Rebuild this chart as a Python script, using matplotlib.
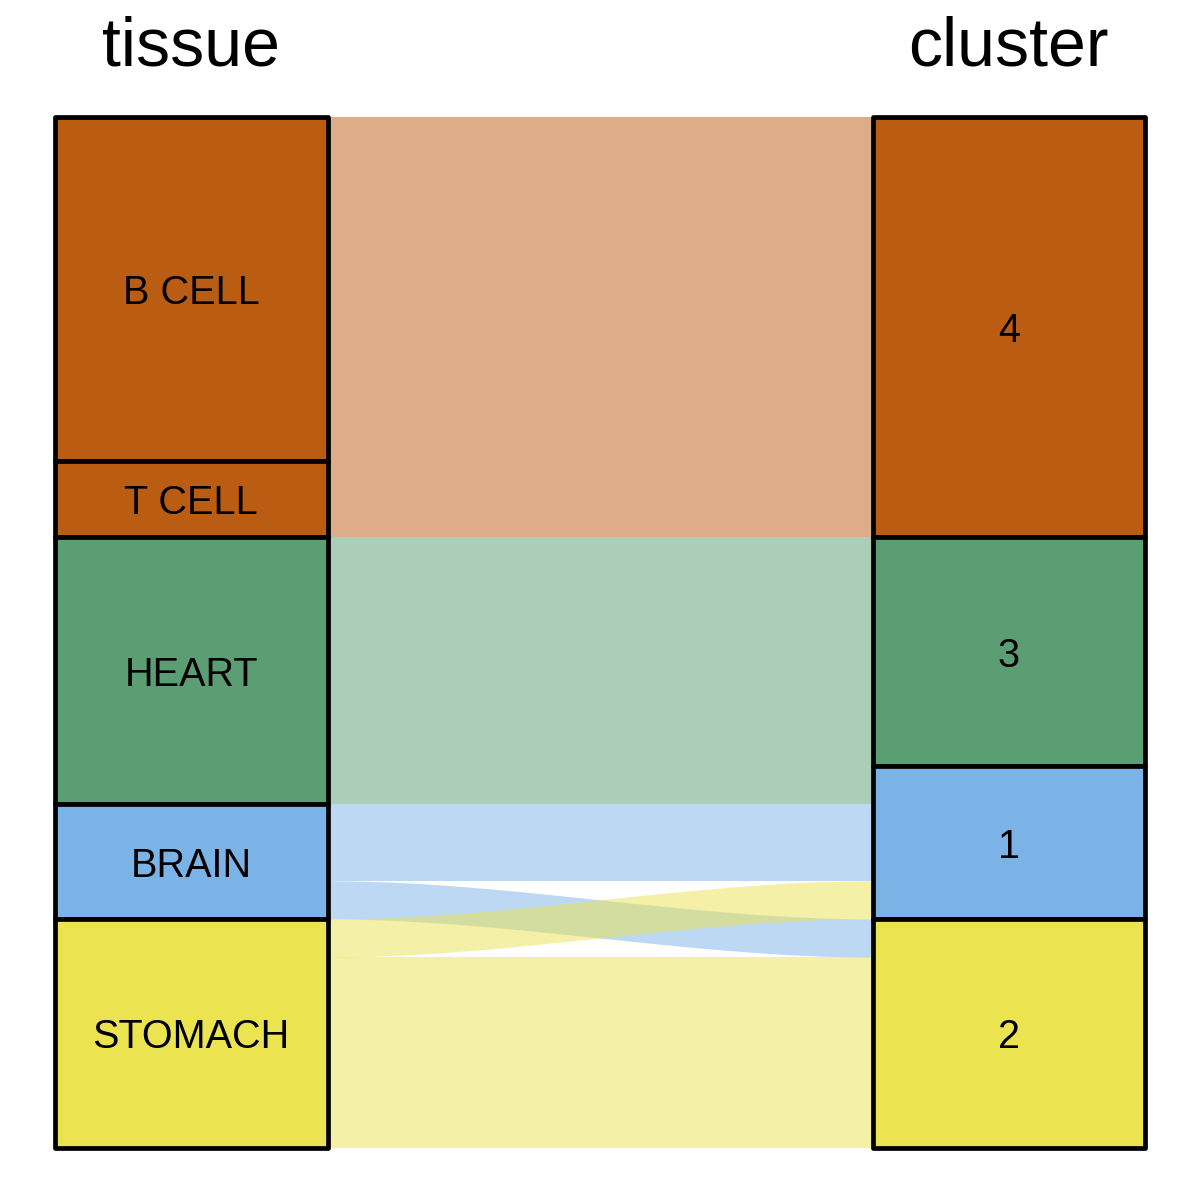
import matplotlib
matplotlib.use("Agg")
import matplotlib.pyplot as plt
from matplotlib.patches import Rectangle
import numpy as np

plt.rcParams['font.family'] = ['Liberation Sans', 'DejaVu Sans']

tissues = ["B CELL", "T CELL", "HEART", "BRAIN", "STOMACH"]
clusters = ["4", "3", "1", "2"]
flow_tissue = ["B CELL", "T CELL", "HEART", "HEART", "BRAIN", "BRAIN", "STOMACH", "STOMACH"]
flow_cluster = ["4", "4", "3", "1", "1", "2", "1", "2"]
flow_count = [9, 2, 6, 1, 2, 1, 1, 5]

orange, green, blue, yellow = "#BA5C12", "#5B9E74", "#7BB3E6", "#EBE350"
tissue_colors = {"B CELL": orange, "T CELL": orange, "HEART": green,
                 "BRAIN": blue, "STOMACH": yellow}
cluster_colors = {"4": orange, "3": green, "1": blue, "2": yellow}

total = sum(flow_count)
w = 1 / 3  # stratum width

fig = plt.figure(figsize=(12, 12), dpi=100)
ax = fig.add_axes([55 / 1200, 52 / 1200, 1090 / 1200, 1031 / 1200])
ax.set_xlim(1 - w / 2, 2 + w / 2)
ax.set_ylim(0, total)
ax.axis("off")


def stack(levels, key_of):
    # stratum tops/bottoms, first level at top
    sizes = {lv: 0 for lv in levels}
    for k, c in zip(key_of, flow_count):
        sizes[k] += c
    tops, y = {}, total
    for lv in levels:
        tops[lv] = (y, y - sizes[lv])
        y -= sizes[lv]
    return tops


t_box = stack(tissues, flow_tissue)
c_box = stack(clusters, flow_cluster)

# flow positions inside each stratum
idx = range(len(flow_count))
left_pos, right_pos = {}, {}
for t in tissues:
    y = t_box[t][0]
    for i in sorted([i for i in idx if flow_tissue[i] == t],
                    key=lambda i: clusters.index(flow_cluster[i])):
        left_pos[i] = (y, y - flow_count[i])
        y -= flow_count[i]
for c in clusters:
    y = c_box[c][0]
    for i in sorted([i for i in idx if flow_cluster[i] == c],
                    key=lambda i: tissues.index(flow_tissue[i])):
        right_pos[i] = (y, y - flow_count[i])
        y -= flow_count[i]

x0, x1 = 1 + w / 2, 2 - w / 2
tt = np.linspace(0, 1, 200)
f = 3 * tt ** 2 - 2 * tt ** 3
xs = x0 + (x1 - x0) * tt
for i in idx:
    (lt, lb), (rt, rb) = left_pos[i], right_pos[i]
    top = lt + (rt - lt) * f
    bot = lb + (rb - lb) * f
    ax.fill_between(xs, bot, top, color=tissue_colors[flow_tissue[i]],
                    alpha=0.5, lw=0, zorder=1)

for x, boxes, colors in [(1, t_box, tissue_colors), (2, c_box, cluster_colors)]:
    for name, (top, bot) in boxes.items():
        ax.add_patch(Rectangle((x - w / 2, bot), w, top - bot,
                               facecolor=colors[name], edgecolor="black",
                               lw=3.4, joinstyle="round", zorder=2,
                               clip_on=False))
        ax.text(x, (top + bot) / 2, name, ha="center", va="center_baseline",
                fontsize=28.5, zorder=3)

ax.text(1, 28.36, "tissue", ha="center", va="baseline", fontsize=49, clip_on=False)
ax.text(2, 28.36, "cluster", ha="center", va="baseline", fontsize=49, clip_on=False)

fig.savefig("out.png", dpi=100)
